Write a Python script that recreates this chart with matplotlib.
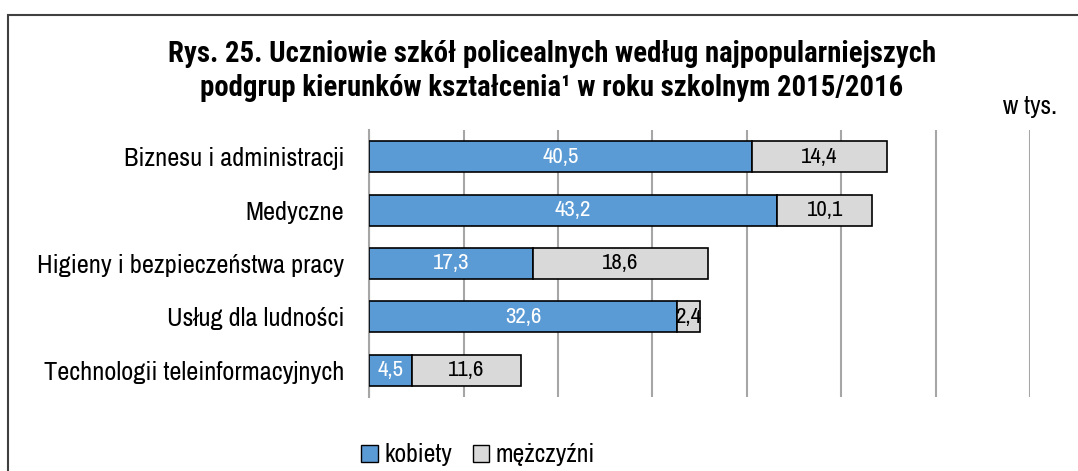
import matplotlib
matplotlib.use("Agg")
import matplotlib.pyplot as plt
from matplotlib.patches import Rectangle, Patch

categories = ["Biznesu i administracji", "Medyczne",
              "Higieny i bezpieczeństwa pracy", "Usług dla ludności",
              "Technologii teleinformacyjnych"]
kobiety = [40.5, 43.2, 17.3, 32.6, 4.5]
mezczyzni = [14.4, 10.1, 18.6, 2.4, 11.6]
series_names = ["kobiety", "mężczyźni"]
title = ("Rys. 25. Uczniowie szkół policealnych według najpopularniejszych\n"
         "podgrup kierunków kształcenia¹ w roku szkolnym 2015/2016")

FONT = ["Archivo Narrow", "Liberation Sans", "DejaVu Sans"]
TITLE_FONT = ["Roboto Condensed", "Archivo Narrow", "Liberation Sans",
              "DejaVu Sans"]
BLUE = "#5b9bd5"
GREY = "#d9d9d9"
plt.rcParams["font.family"] = FONT


def fmt(v):
    return ("%.1f" % v).replace(".", ",")


def main():
    fig = plt.figure(figsize=(10.78, 4.71), dpi=100)
    ax = fig.add_axes([369.3 / 1078, 1 - 397 / 471, 660.7 / 1078, 267 / 471])

    ypos = list(range(len(categories)))
    ax.barh(ypos, kobiety, height=0.58, color=BLUE, edgecolor="black",
            lw=1.2, zorder=3)
    ax.barh(ypos, mezczyzni, left=kobiety, height=0.58, color=GREY,
            edgecolor="black", lw=1.2, zorder=3)

    for y, k, m in zip(ypos, kobiety, mezczyzni):
        ax.text(k / 2, y, fmt(k), ha="center", va="center", color="white",
                fontsize=16.5, zorder=4)
        ax.text(k + m / 2, y, fmt(m), ha="center", va="center",
                color="black", fontsize=16.5, zorder=4)

    ax.set_xlim(0, 70)
    ax.set_ylim(len(categories) - 0.5, -0.5)
    ax.set_xticks(range(0, 71, 10))
    ax.set_xticklabels([])
    ax.tick_params(axis="x", length=0)
    ax.tick_params(axis="y", length=0, labelsize=19, pad=18)
    ax.set_yticks(ypos)
    ax.set_yticklabels(categories)
    ax.grid(axis="x", color="#a6a6a6", lw=1.5, zorder=0)
    for s in ["top", "right", "bottom"]:
        ax.spines[s].set_visible(False)
    ax.spines["left"].set_color("#a6a6a6")
    ax.spines["left"].set_linewidth(1.5)

    fig.text(552 / 1078, 1 - 71 / 471, title, ha="center", va="center",
             fontsize=20.7, fontweight="bold", linespacing=1.25,
             family=TITLE_FONT)
    fig.text(1030 / 1078, 1 - 107 / 471, "w tys.", ha="center",
             va="center", fontsize=18.5)

    handles = [Patch(facecolor=BLUE, edgecolor="black", lw=1.0),
               Patch(facecolor=GREY, edgecolor="black", lw=1.0)]
    fig.legend(handles, series_names, loc="center",
               bbox_to_anchor=(478 / 1078, 1 - 455 / 471), ncol=2,
               frameon=False, fontsize=18.5, handlelength=0.65,
               handleheight=0.65, handletextpad=0.25, columnspacing=0.8)

    fig.patches.append(Rectangle((8 / 1078, -0.2), 1.2, 1.2 - 15 / 471,
                                 transform=fig.transFigure, fill=False,
                                 edgecolor="#404040", lw=1.5))

    fig.savefig("out.png", dpi=100)


if __name__ == "__main__":
    main()
